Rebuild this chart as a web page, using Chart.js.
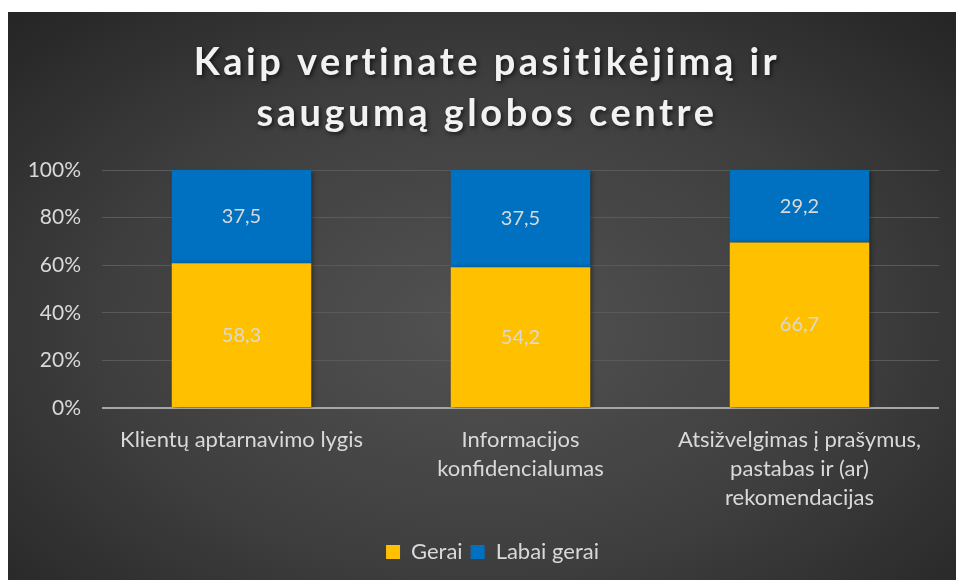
<!DOCTYPE html>
<html>
<head>
<meta charset="utf-8">
<script src="https://cdn.jsdelivr.net/npm/chart.js@4/dist/chart.umd.min.js"></script>
<style>
html,body{margin:0;padding:0;background:#fff;width:956px;height:580px;overflow:hidden;}
#wrap{position:absolute;left:8px;top:12px;width:948px;height:568px;
background:radial-gradient(ellipse 70% 75% at 50% 55%, #525252 0%, #3f3f3f 55%, #262626 100%);}
</style>
</head>
<body>
<div id="wrap"><canvas id="c" width="948" height="568"></canvas></div>
<script>
const titleLines = ["Kaip vertinate pasitikėjimą ir", "saugumą globos centre"];
const categories = [
  ["Klientų aptarnavimo lygis"],
  ["Informacijos", "konfidencialumas"],
  ["Atsižvelgimas į prašymus,", "pastabas ir (ar)", "rekomendacijas"]
];
const seriesNames = ["Gerai", "Labai gerai"];
const geraiValues = [58.3, 54.2, 66.7];
const labaiGeraiValues = [37.5, 37.5, 29.2];
const yTickLabels = ["0%", "20%", "40%", "60%", "80%", "100%"];
const seriesColors = ["#FFC000", "#0070C0"];

const totals = geraiValues.map((v, i) => v + labaiGeraiValues[i]);
const pct = arr => arr.map((v, i) => v / totals[i] * 100);
const rawSeries = [geraiValues, labaiGeraiValues];

const FONT = "Lato, 'Open Sans', sans-serif";

const titlePlugin = {
  id: 'customTitle',
  afterDraw(chart) {
    const ctx = chart.ctx;
    ctx.save();
    ctx.font = "bold 38px " + FONT;
    ctx.letterSpacing = "3.5px";
    ctx.textAlign = "center";
    ctx.textBaseline = "alphabetic";
    ctx.fillStyle = "#f2f2f2";
    ctx.shadowColor = "rgba(0,0,0,0.6)";
    ctx.shadowBlur = 4;
    ctx.shadowOffsetX = 2;
    ctx.shadowOffsetY = 2;
    const cx = 479;
    ctx.fillText(titleLines[0], cx, 63);
    ctx.fillText(titleLines[1], cx, 114);
    ctx.restore();
  }
};

const legendShift = {
  id: 'legendShift',
  afterLayout(chart) {
    if (chart.legend) {
      chart.legend.left += 19;
      chart.legend.right += 19;
    }
  }
};

const valueLabels = {
  id: 'valueLabels',
  afterDatasetsDraw(chart) {
    const ctx = chart.ctx;
    ctx.save();
    ctx.font = "20px " + FONT;
    ctx.fillStyle = "#d9d9d9";
    ctx.textAlign = "center";
    ctx.textBaseline = "middle";
    chart.data.datasets.forEach((ds, di) => {
      const meta = chart.getDatasetMeta(di);
      meta.data.forEach((bar, i) => {
        const p = bar.getProps(['x', 'y', 'base'], true);
        const y = (p.y + p.base) / 2;
        ctx.fillText(rawSeries[di][i].toFixed(1).replace('.', ','), p.x, y);
      });
    });
    ctx.restore();
  }
};

const barShadow = {
  id: 'barShadow',
  beforeDatasetsDraw(chart) {
    const ctx = chart.ctx;
    ctx.save();
    ctx.shadowColor = "rgba(0,0,0,0.45)";
    ctx.shadowBlur = 5;
    ctx.shadowOffsetX = 2;
    ctx.shadowOffsetY = 1;
  },
  afterDatasetsDraw(chart) {
    chart.ctx.restore();
  }
};

new Chart(document.getElementById('c'), {
  type: 'bar',
  data: {
    labels: categories,
    datasets: [
      { label: seriesNames[0], data: pct(geraiValues), backgroundColor: seriesColors[0], borderWidth: 0 },
      { label: seriesNames[1], data: pct(labaiGeraiValues), backgroundColor: seriesColors[1], borderWidth: 0 }
    ]
  },
  options: {
    responsive: false,
    animation: false,
    devicePixelRatio: 1,
    layout: { padding: { top: 158, right: 17, bottom: 7, left: 0 } },
    datasets: { bar: { categoryPercentage: 1.0, barPercentage: 0.5 } },
    plugins: {
      title: { display: false },
      tooltip: { enabled: false },
      legend: {
        position: 'bottom',
        labels: {
          color: "#d9d9d9",
          font: { family: FONT, size: 22 },
          boxWidth: 14, boxHeight: 14,
          padding: 8
        }
      }
    },
    scales: {
      x: {
        stacked: true,
        grid: { display: false, drawTicks: false },
        border: { display: false },
        ticks: {
          color: "#d9d9d9",
          font: { family: FONT, size: 22, lineHeight: 1.32 },
          padding: 17,
          maxRotation: 0, autoSkip: false
        },
        afterFit(s) { s.height = 125; }
      },
      y: {
        stacked: true,
        min: 0, max: 100,
        grid: {
          drawTicks: false,
          color: ctx => ctx.tick && ctx.tick.value === 0 ? "#a6a6a6" : "#5a5a5a",
          lineWidth: ctx => ctx.tick && ctx.tick.value === 0 ? 2 : 1
        },
        border: { display: false },
        ticks: {
          stepSize: 20,
          color: "#d9d9d9",
          font: { family: FONT, size: 21 },
          padding: 21,
          callback: (v) => yTickLabels[Math.round(v / 20)]
        },
        afterFit(s) { s.width = 94; }
      }
    }
  },
  plugins: [legendShift, barShadow, valueLabels, titlePlugin]
});
</script>
</body>
</html>
